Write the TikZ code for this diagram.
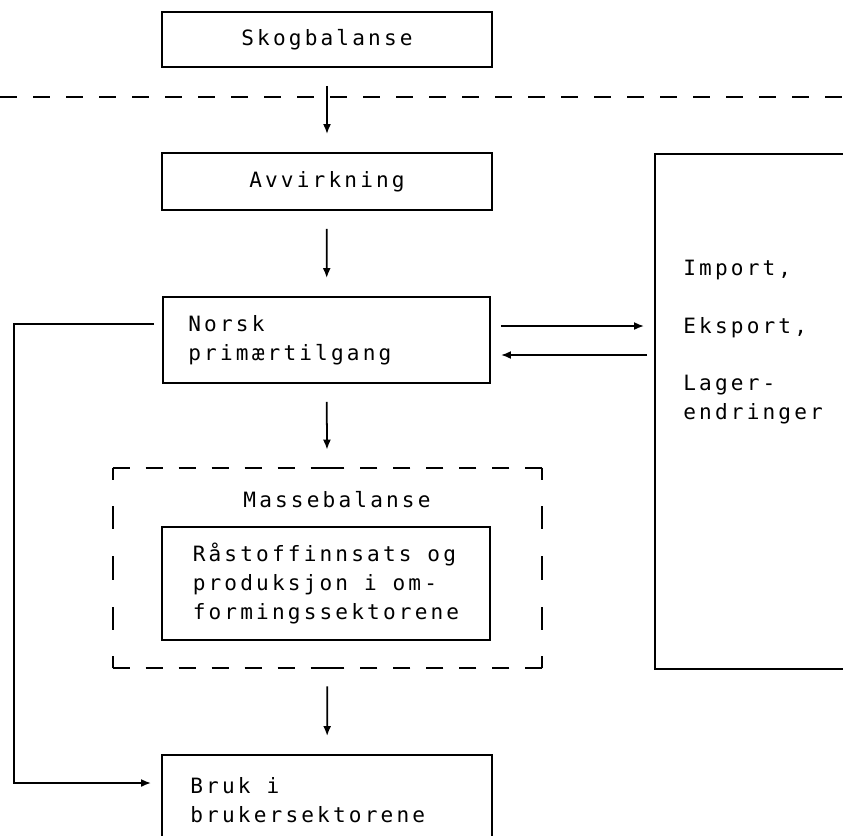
\documentclass[tikz,border=0pt]{standalone}
\usepackage{fontspec}
\newfontfamily\skrift[LetterSpace=15]{DejaVu Sans Mono}
\usetikzlibrary{arrows.meta}
\tikzset{
  boks/.style={draw, line width=1.1pt, inner xsep=0.52cm, inner ysep=0pt},
  pil/.style={line width=1pt, -{Latex[length=0.2cm,width=0.16cm]}, shorten <=0.36cm, shorten >=0.36cm},
  strek/.style={line width=1.1pt, dash pattern=on 0.34cm off 0.32cm},
  strekv/.style={line width=1.1pt, dash pattern=on 0.46cm off 0.535cm, dash phase=0.22cm},
}
\begin{document}
\begin{tikzpicture}[every node/.append style={font=\skrift\fontsize{12}{16.3}\selectfont}]
        \useasboundingbox (0,0) rectangle (16.86,-16.70);
        \clip (0,0) rectangle (16.86,-16.70);

        % boxes
        \node[boks, minimum width=6.6cm, minimum height=1.1cm, align=center] (skog) at (6.54,-0.79) {Skogbalanse};
        \node[boks, minimum width=6.6cm, minimum height=1.14cm, align=center] (avv) at (6.54,-3.63) {Avvirkning};
        \node[boks, minimum width=6.54cm, minimum height=1.72cm] (norsk) at (6.53,-6.80) {};
        \node[anchor=west, inner sep=0pt, align=left] (norsktekst) at ([xshift=0.52cm]norsk.west) {Norsk\\prim\ae rtilgang};
        \node[boks, inner xsep=0pt, minimum width=6.56cm, minimum height=2.26cm, align=left] (omf) at (6.52,-11.67) {R\aa stoffinnsats og\\produksjon i om-\\formingssektorene};
        \node[boks, minimum width=6.6cm, minimum height=1.8cm] (bruk) at (6.54,-16.0) {};
        \node[anchor=west, inner sep=0pt, align=left] (bruktekst) at ([xshift=0.58cm]bruk.west) {Bruk i\\brukersektorene};
        \node[boks, minimum width=6cm, minimum height=10.3cm] (omverden) at (16.1,-8.23) {};
        \node[anchor=base west, inner sep=0pt, align=left] (handel) at (13.66,-8.38) {Import,\\[17pt]Eksport,\\[16pt]Lager-\\endringer};

        % massebalanse
        \node[draw=none, inner sep=0pt, minimum width=8.58cm, minimum height=4cm] (masse) at (6.55,-11.36) {};
        \node[anchor=base] (massetittel) at (6.74,-10.14) {Massebalanse};
        \draw[strek] (masse.north west) -- (masse.north);
        \draw[strek] (masse.north east) -- (masse.north);
        \draw[strek] (masse.south west) -- (masse.south);
        \draw[strek] (masse.south east) -- (masse.south);
        \draw[strekv] (masse.north west) -- (masse.west);
        \draw[strekv] (masse.south west) -- (masse.west);
        \draw[strekv] (masse.north east) -- (masse.east);
        \draw[strekv] (masse.south east) -- (masse.east);

        % skillelinje
        \coordinate (skille) at (0,-1.94);
        \draw[strek] (skille) -- ++(16.86,0);

        % arrows
        \draw[pil] (skog) -- (avv);
        \draw[pil] (avv) -- (norsk);
        \draw[pil] (norsk) -- (masse);
        \draw[pil] (masse) -- (bruk);

        \coordinate (ut1) at ([yshift=0.28cm]norsk.east);
        \coordinate (inn1) at ([yshift=-0.30cm]norsk.east);
        \draw[pil, shorten <=0.2cm, shorten >=0.2cm] (ut1) -- (ut1 -| omverden.west);
        \draw[pil, shorten <=0.14cm, shorten >=0.2cm] (inn1 -| omverden.west) -- (inn1);

        \coordinate (venstre) at (0.28,0);
        \coordinate (ut2) at ([xshift=-0.16cm,yshift=0.32cm]norsk.west);
        \coordinate (inn2) at ([xshift=-0.2cm,yshift=0.34cm]bruk.west);
        \draw[line width=1pt, -{Latex[length=0.2cm,width=0.16cm]}] (ut2) -- (ut2 -| venstre) |- (inn2);
\end{tikzpicture}
\end{document}
